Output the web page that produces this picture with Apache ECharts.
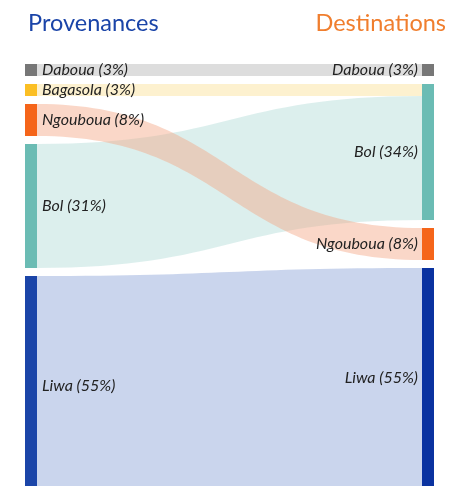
<!DOCTYPE html>
<html><head><meta charset="utf-8">
<script src="https://cdn.jsdelivr.net/npm/echarts@6/dist/echarts.min.js"></script>
<style>html,body{margin:0;padding:0;background:#fff}#c{width:455px;height:486px}</style>
</head><body><div id="c"></div>
<script>
// Data (percent shares)
const sourceNames = ['Daboua', 'Bagasola', 'Ngouboua', 'Bol', 'Liwa'];
const sourceValues = [3, 3, 8, 31, 55];
const targetNames = ['Daboua', 'Bol', 'Ngouboua', 'Liwa'];
const targetValues = [3, 34, 8, 55];
const flowSources = ['Daboua', 'Bagasola', 'Bol', 'Ngouboua', 'Liwa'];
const flowTargets = ['Daboua', 'Bol', 'Bol', 'Ngouboua', 'Liwa'];
const flowValues = [3, 3, 31, 8, 55];
const titleLeft = 'Provenances';
const titleRight = 'Destinations';

// Styles
const nodeColors = {
  Daboua: '#777777', Bagasola: '#fbbf24', Ngouboua: '#f5651a', Bol: '#6bbcb4', Liwa: '#1b45a8'
};
const targetNodeColors = { Liwa: '#0a32a0' };
const linkColors = {
  Daboua: 'rgba(200,200,200,0.62)',
  Bagasola: 'rgba(250,222,140,0.42)',
  Ngouboua: 'rgba(244,166,133,0.45)',
  Bol: 'rgba(150,205,200,0.33)',
  Liwa: 'rgba(110,140,205,0.37)'
};
const labelStyle = { fontFamily: 'Lato', fontStyle: 'italic', fontSize: 16, color: '#222' };

const nodes = [];
sourceNames.forEach((n, i) => nodes.push({
  name: 'S:' + n, value: sourceValues[i],
  itemStyle: { color: nodeColors[n] },
  label: Object.assign({ position: 'right', distance: 5, formatter: n + ' (' + sourceValues[i] + '%)' }, labelStyle)
}));
targetNames.forEach((n, i) => nodes.push({
  name: 'T:' + n, value: targetValues[i],
  itemStyle: { color: targetNodeColors[n] || nodeColors[n] },
  label: Object.assign({ position: 'left', distance: 4, formatter: n + ' (' + targetValues[i] + '%)' }, labelStyle)
}));
const links = flowSources.map((s, i) => ({
  source: 'S:' + s, target: 'T:' + flowTargets[i], value: flowValues[i],
  lineStyle: { color: linkColors[s], opacity: 1 }
}));

const chart = echarts.init(document.getElementById('c'), null, { renderer: 'canvas' });
chart.setOption({
  animation: false,
  title: [
    { text: titleLeft, left: 23, top: 6, textStyle: { fontFamily: 'Lato', fontWeight: 'normal', fontSize: 23.5, color: '#1a44a8' } },
    { text: titleRight, right: 4, top: 6, textStyle: { fontFamily: 'Lato', fontWeight: 'normal', fontSize: 23.5, color: '#f07e2e' } }
  ],
  series: [{
    type: 'sankey',
    left: 25, right: 21, top: 64, bottom: -10,
    nodeWidth: 12, nodeGap: 8,
    layoutIterations: 0,
    draggable: false,
    emphasis: { disabled: true },
    lineStyle: { curveness: 0.5 },
    data: nodes,
    links: links
  }]
});
</script></body></html>
